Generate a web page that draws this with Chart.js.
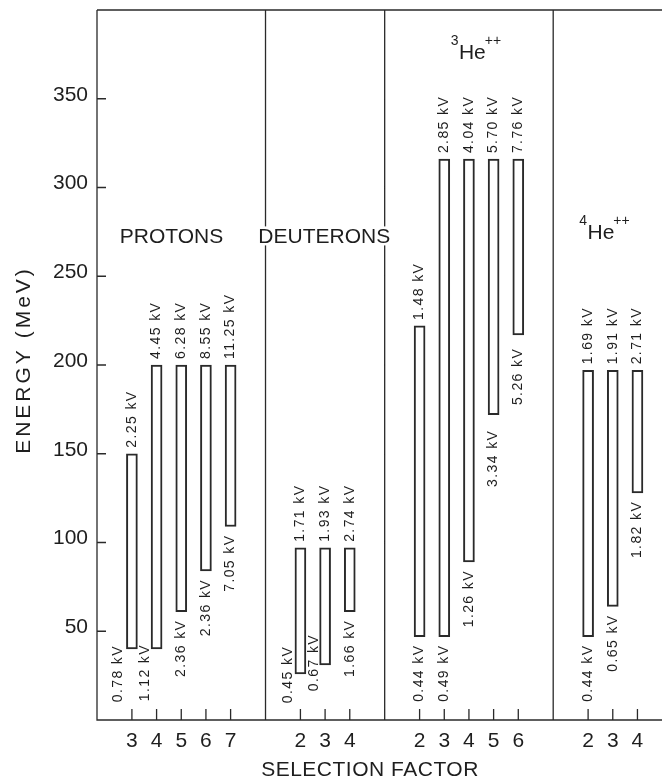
<!DOCTYPE html>
<html><head><meta charset="utf-8">
<script src="https://cdn.jsdelivr.net/npm/chart.js@4/dist/chart.umd.min.js"></script>
<style>html,body{margin:0;padding:0;background:#fff;overflow:hidden}canvas{display:block}</style>
</head><body>
<canvas id="c" width="662" height="778"></canvas>
<script>
// ---------------- data ----------------
const protonFactors = [3, 4, 5, 6, 7];
const protonLow  = [40, 40, 61, 84, 109];
const protonHigh = [150, 200, 200, 200, 200];
const protonLowLabels  = ['0.78 kV', '1.12 kV', '2.36 kV', '2.36 kV', '7.05 kV'];
const protonHighLabels = ['2.25 kV', '4.45 kV', '6.28 kV', '8.55 kV', '11.25 kV'];

const deuteronFactors = [2, 3, 4];
const deuteronLow  = [26, 31, 61];
const deuteronHigh = [97, 97, 97];
const deuteronLowLabels  = ['0.45 kV', '0.67 kV', '1.66 kV'];
const deuteronHighLabels = ['1.71 kV', '1.93 kV', '2.74 kV'];

const he3Factors = [2, 3, 4, 5, 6];
const he3Low  = [47, 47, 89, 172, 217];
const he3High = [222, 316, 316, 316, 316];
const he3LowLabels  = ['0.44 kV', '0.49 kV', '1.26 kV', '3.34 kV', '5.26 kV'];
const he3HighLabels = ['1.48 kV', '2.85 kV', '4.04 kV', '5.70 kV', '7.76 kV'];

const he4Factors = [2, 3, 4];
const he4Low  = [47, 64, 128];
const he4High = [197, 197, 197];
const he4LowLabels  = ['0.44 kV', '0.65 kV', '1.82 kV'];
const he4HighLabels = ['1.69 kV', '1.91 kV', '2.71 kV'];

const yTickValues = [50, 100, 150, 200, 250, 300, 350];
const yTitle = 'ENERGY (MeV)';
const xTitle = 'SELECTION FACTOR';

// ---------------- layout / style ----------------
const FONT = "'Liberation Sans', Arial, sans-serif";
const INK = '#1e1e1e';
const LINE = '#2a2a2a';
const PAD = 1.415;            // x-units between a group edge and its first/last bar
const X_MAX = 22.9;

const groups = [
  {factors: protonFactors,  low: protonLow,  high: protonHigh,  lowLab: protonLowLabels,  highLab: protonHighLabels},
  {factors: deuteronFactors,low: deuteronLow,high: deuteronHigh,lowLab: deuteronLowLabels,highLab: deuteronHighLabels},
  {factors: he3Factors,     low: he3Low,     high: he3High,     lowLab: he3LowLabels,     highLab: he3HighLabels},
  {factors: he4Factors,     low: he4Low,     high: he4High,     lowLab: he4LowLabels,     highLab: he4HighLabels}
];
let cursor = 0;
const separators = [];
groups.forEach((g, i) => {
  g.pos = g.factors.map((f, j) => cursor + PAD + j);
  cursor += 2 * PAD + g.factors.length - 1;
  if (i < groups.length - 1) separators.push(cursor);
});
const allPos = groups.flatMap(g => g.pos);
const allFactors = groups.flatMap(g => g.factors);

// pixel nudges for a few crowded bottom labels [dx, dy]
const bottomNudge = {'0-0': [-14, -12], '0-1': [-11, -13], '1-0': [-12, -36], '1-1': [-11, -39], '2-3': [0, 7], '2-4': [0, 5]};

const datasets = groups.map(g => ({
  data: g.pos.map((p, j) => ({x: p, y: [g.low[j], g.high[j]]})),
  backgroundColor: '#ffffff',
  borderColor: LINE,
  borderWidth: 2,
  borderSkipped: false,
  barThickness: 11,
  grouped: false
}));

function isotope(ctx, mass, x, base) {
  ctx.textBaseline = 'alphabetic';
  ctx.font = '21px ' + FONT;
  ctx.textAlign = 'left';
  ctx.fillText('He', x, base);
  const w = ctx.measureText('He').width;
  ctx.font = '14px ' + FONT;
  ctx.textAlign = 'right';
  ctx.fillText(mass, x - 0.5, base - 14);
  ctx.textAlign = 'left';
  ctx.fillText('++', x + w - 1, base - 14);
}

const decor = {
  id: 'decor',
  beforeDatasetsDraw(chart) {
    const {ctx, chartArea: a, scales: {x, y}} = chart;
    ctx.save();
    ctx.strokeStyle = LINE;
    ctx.lineWidth = 1.3;
    ctx.beginPath();
    ctx.moveTo(a.left, a.top); ctx.lineTo(a.left, a.bottom); ctx.lineTo(a.right, a.bottom);
    ctx.moveTo(a.left, a.top); ctx.lineTo(a.right, a.top);
    separators.forEach(s => { const px = x.getPixelForValue(s); ctx.moveTo(px, a.top); ctx.lineTo(px, a.bottom); });
    yTickValues.forEach(v => { const py = y.getPixelForValue(v); ctx.moveTo(a.left, py); ctx.lineTo(a.left + 9, py); });
    allPos.forEach(v => { const px = x.getPixelForValue(v); ctx.moveTo(px, a.bottom); ctx.lineTo(px, a.bottom - 11); });
    ctx.stroke();

    // group labels (white backing breaks the separator lines)
    ctx.fillStyle = INK;
    ctx.font = '21px ' + FONT;
    ctx.textAlign = 'center';
    ctx.textBaseline = 'alphabetic';
    [['PROTONS', 3.02], ['DEUTERONS', 9.21]].forEach(([t, xv]) => {
      const px = x.getPixelForValue(xv), py = y.getPixelForValue(268.5);
      const w = ctx.measureText(t).width;
      ctx.fillStyle = '#fff';
      ctx.fillRect(px - w / 2 - 1, py - 17, w + 2, 19);
      ctx.fillStyle = INK;
      ctx.fillText(t, px, py);
    });
    isotope(ctx, '3', x.getPixelForValue(14.67), y.getPixelForValue(372.3));
    isotope(ctx, '4', x.getPixelForValue(19.88), y.getPixelForValue(271.2));

    // axis titles
    ctx.font = '21px ' + FONT;
    ctx.textAlign = 'center';
    ctx.textBaseline = 'middle';
    ctx.save();
    ctx.translate(24, 360);
    ctx.rotate(-Math.PI / 2);
    ctx.letterSpacing = '3px';
    ctx.fillText(yTitle, 0, 0);
    ctx.restore();
    ctx.textBaseline = 'alphabetic';
    ctx.letterSpacing = '0.5px';
    ctx.fillText(xTitle, 370, 776);
    ctx.restore();
  },
  afterDatasetsDraw(chart) {
    const {ctx, scales: {x, y}} = chart;
    ctx.save();
    ctx.fillStyle = INK;
    ctx.font = '14px ' + FONT;
    ctx.letterSpacing = '1.4px';
    ctx.textBaseline = 'middle';
    groups.forEach((g, gi) => {
      g.pos.forEach((p, j) => {
        const px = x.getPixelForValue(p);
        // top label
        ctx.save();
        ctx.translate(px, y.getPixelForValue(g.high[j]) - 6);
        ctx.rotate(-Math.PI / 2);
        ctx.textAlign = 'left';
        ctx.fillText(g.highLab[j], 0, 0);
        ctx.restore();
        // bottom label
        const n = bottomNudge[gi + '-' + j] || [0, 0];
        ctx.save();
        ctx.translate(px + n[0], y.getPixelForValue(g.low[j]) + 8 + n[1]);
        ctx.rotate(-Math.PI / 2);
        ctx.textAlign = 'right';
        ctx.fillText(g.lowLab[j], 0, 0);
        ctx.restore();
      });
    });
    ctx.restore();
  }
};

new Chart(document.getElementById('c'), {
  type: 'bar',
  data: {datasets},
  options: {
    responsive: false,
    animation: false,
    devicePixelRatio: 1,
    layout: {padding: {top: 10, left: 0, right: 0, bottom: 0}, autoPadding: false},
    plugins: {legend: {display: false}, tooltip: {enabled: false}},
    scales: {
      x: {
        type: 'linear', min: 0, max: X_MAX, offset: false,
        grid: {display: false, drawTicks: false}, border: {display: false},
        afterBuildTicks: s => { s.ticks = allPos.map(v => ({value: v})); },
        afterFit: s => { s.height = 58; s.paddingLeft = 0; s.paddingRight = 0; },
        ticks: {
          autoSkip: false, maxRotation: 0, minRotation: 0, padding: 9,
          color: INK, font: {family: FONT, size: 21},
          callback: (v, i) => String(allFactors[i])
        }
      },
      y: {
        min: 0, max: 400,
        grid: {display: false, drawTicks: false}, border: {display: false},
        afterBuildTicks: s => { s.ticks = yTickValues.map(v => ({value: v})); },
        afterFit: s => { s.width = 97; s.paddingTop = 0; s.paddingBottom = 0; },
        ticks: {padding: 9, labelOffset: -4, color: INK, font: {family: FONT, size: 21}}
      }
    }
  },
  plugins: [decor]
});
</script>
</body></html>
